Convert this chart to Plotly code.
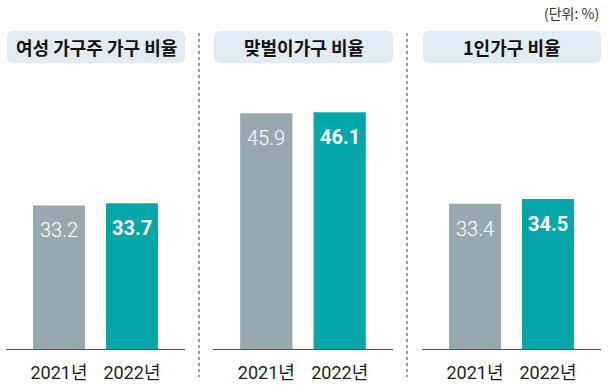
import plotly.graph_objects as go

W, H = 608, 389

panel_titles = ["여성 가구주 가구 비율", "맞벌이가구 비율", "1인가구 비율"]
years = ["2021년", "2022년"]
values_2021 = [33.2, 45.9, 33.4]
values_2022 = [33.7, 46.1, 34.5]
unit_label = "(단위: %)"

y_max = [57.6, 48.5, 57.3]
x_px = [(6, 185), (213, 393), (422, 601)]
sep_px = [199, 407]
base_px, top_px = 349, 100

GRAY = "#97a8b0"
TEAL = "#06a7aa"
BOX = "#e1ebf4"

def px(x):
    return x / W

def py(y):
    return (H - y) / H

fig = go.Figure()
layout = dict(
    width=W, height=H, margin=dict(l=0, r=0, t=0, b=0),
    paper_bgcolor="white", plot_bgcolor="white", showlegend=False,
    font=dict(family="Noto Sans CJK KR", color="#222"),
)
shapes = []
annotations = []

for i in range(3):
    xa = "x" if i == 0 else f"x{i+1}"
    ya = "y" if i == 0 else f"y{i+1}"
    vals = [values_2021[i], values_2022[i]]
    fig.add_trace(go.Bar(
        x=[0, 1], y=vals, xaxis=xa, yaxis=ya,
        marker=dict(color=[GRAY, TEAL], line=dict(width=0)),
        width=0.712, hoverinfo="skip",
    ))
    key = "" if i == 0 else str(i + 1)
    layout["xaxis" + key] = dict(
        domain=[px(x_px[i][0]), px(x_px[i][1])], range=[-0.726, 1.726],
        anchor=ya, tickvals=[0, 1], ticktext=years, showline=True,
        linecolor="#555", linewidth=1.3, showgrid=False, zeroline=False,
        ticks="", ticklabelstandoff=7,
        tickfont=dict(family="Roboto, Noto Sans CJK KR", size=18, color="#222"),
        fixedrange=True,
    )
    layout["yaxis" + key] = dict(
        domain=[py(base_px), py(top_px)], range=[0, y_max[i]], anchor=xa,
        visible=False, showgrid=False, zeroline=False, fixedrange=True,
    )
    for j, v in enumerate(vals):
        annotations.append(dict(
            x=j, y=v, xref=xa, yref=ya, text=f"{v:.1f}", showarrow=False,
            yanchor="top", yshift=-11,
            font=dict(family="Roboto", size=20, color="white",
                      weight=300 if j == 0 else 700),
        ))
    # title box
    x0, x1 = px(x_px[i][0] + 1), px(x_px[i][1])
    y0, y1 = py(63), py(31)
    rx, ry = 7 / W, 7 / H
    path = (f"M {x0+rx},{y0} L {x1-rx},{y0} Q {x1},{y0} {x1},{y0+ry} "
            f"L {x1},{y1-ry} Q {x1},{y1} {x1-rx},{y1} L {x0+rx},{y1} "
            f"Q {x0},{y1} {x0},{y1-ry} L {x0},{y0+ry} Q {x0},{y0} {x0+rx},{y0} Z")
    shapes.append(dict(type="path", path=path, xref="paper", yref="paper",
                       fillcolor=BOX, line=dict(width=0), layer="below"))
    annotations.append(dict(
        x=(x0 + x1) / 2, y=py(47), xref="paper", yref="paper",
        text=f"<b>{panel_titles[i]}</b>", showarrow=False,
        xanchor="center", yanchor="middle",
        font=dict(family="Noto Sans CJK KR", size=18, color="#111"),
    ))

for sx in sep_px:
    shapes.append(dict(type="line", xref="paper", yref="paper",
                       x0=px(sx), x1=px(sx), y0=py(33), y1=py(377),
                       line=dict(color="#777", width=1.5, dash="dot")))

annotations.append(dict(
    x=px(601), y=py(13), xref="paper", yref="paper", text=unit_label,
    showarrow=False, xanchor="right", yanchor="middle",
    font=dict(family="Noto Sans CJK KR", size=14, color="#333"),
))

layout["shapes"] = shapes
layout["annotations"] = annotations
fig.update_layout(**layout)
fig.write_html(
    "out.html",
    config={"displayModeBar": False},
    post_script="document.body.style.margin='0';document.body.style.overflow='hidden';",
)
